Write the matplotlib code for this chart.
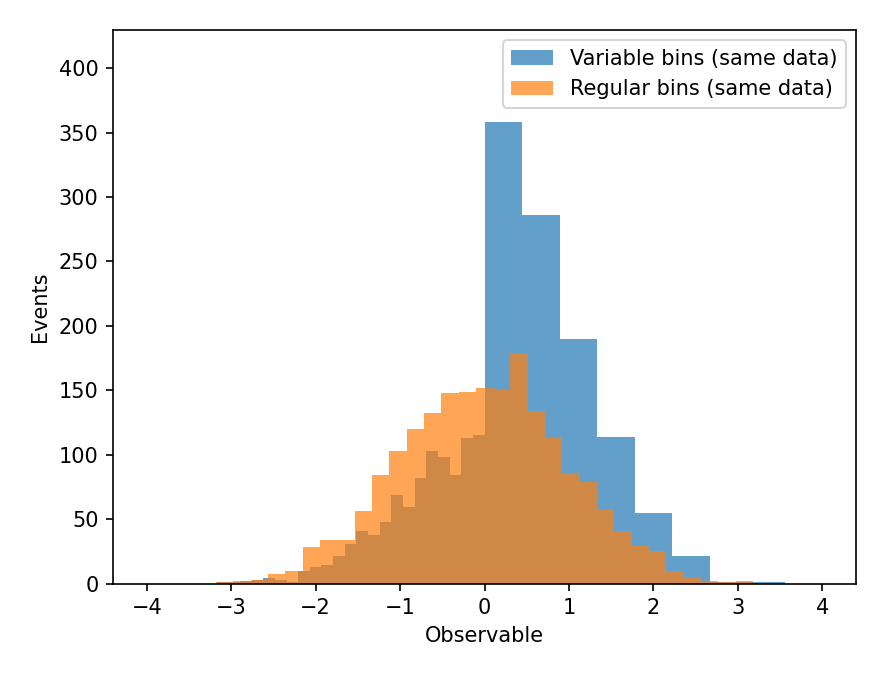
import numpy as np
import matplotlib
matplotlib.use("Agg")
import matplotlib.pyplot as plt

# Variable bins: fine bins on the left, wide bins on the right
var_edges = np.concatenate([np.linspace(-4, 0, 30), np.linspace(0, 4, 10)[1:]])
var_counts = [0, 0, 0, 0, 0, 0, 1, 1, 2, 3,
              4, 3, 1, 10, 13, 14, 21, 31, 41, 38,
              48, 69, 59, 82, 103, 98, 84, 113, 115,
              358, 286, 190, 114, 55, 21, 1, 1, 0]

# Regular bins
reg_edges = np.linspace(-4, 4, 40)
reg_counts = [0, 0, 0, 0, 1, 2, 3, 7, 10, 28,
              34, 34, 56, 84, 103, 120, 132, 148, 149, 152,
              151, 179, 134, 114, 86, 79, 58, 41, 29, 25,
              10, 5, 2, 1, 2, 0, 0, 0, 0]

labels = ["Variable bins (same data)", "Regular bins (same data)"]

W, H, DPI = 886, 679, 150
fig = plt.figure(figsize=(W / DPI, H / DPI), dpi=DPI)
ax = fig.add_axes([113 / W, (H - 583.5) / H, 743 / W, 553.5 / H])

ax.hist(var_edges[:-1], bins=var_edges, weights=var_counts, alpha=0.7,
        color="tab:blue", label=labels[0])
ax.hist(reg_edges[:-1], bins=reg_edges, weights=reg_counts, alpha=0.7,
        color="tab:orange", label=labels[1])

ax.set_ylim(0, max(var_counts) * 1.2)
ax.set_xlabel("Observable")
ax.set_ylabel("Events")
ax.legend(loc="upper right")

fig.savefig("out.png", dpi=DPI)
